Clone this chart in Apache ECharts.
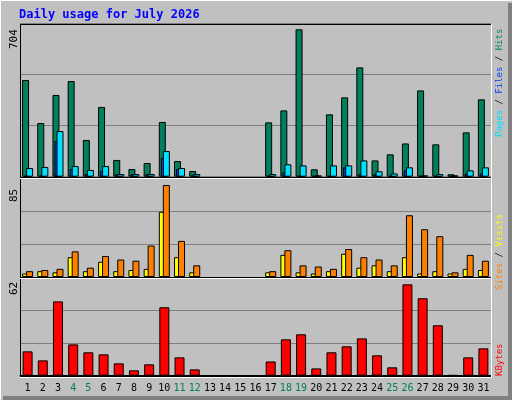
<!DOCTYPE html>
<html><head><meta charset="utf-8">
<script src="https://cdn.jsdelivr.net/npm/echarts@6/dist/echarts.min.js"></script>
<style>html,body{margin:0;padding:0;background:#C0C0C0}#c{width:512px;height:400px}</style>
</head><body><div id="c"></div>
<script>
const days = ['1','2','3','4','5','6','7','8','9','10','11','12','13','14','15','16','17','18','19','20','21','22','23','24','25','26','27','28','29','30','31'];
const weekend = ['4','5','11','12','18','19','25','26'];
const hits  = [445,247,376,440,169,321,77,35,63,252,72,26,null,null,null,null,250,305,678,34,287,365,503,75,103,153,397,149,11,204,356];
const files = [3,6,164,35,12,26,12,12,12,86,35,6,null,null,null,null,3,20,3,3,3,43,12,12,3,29,3,3,3,15,15];
const pages = [40,45,210,49,31,49,12,12,12,118,40,12,null,null,null,null,12,57,52,6,52,52,75,25,15,43,6,12,6,29,43];
const sites = [3,5,4,17,5,13,5,6,7,56,17,4,null,null,null,null,4,19,4,3,5,20,8,10,5,17,3,5,3,7,6];
const visits= [5,6,7,22,8,18,15,14,27,79,31,10,null,null,null,null,5,23,10,9,7,24,17,15,10,53,41,35,4,19,14];
const kbytes= [15.4,9.7,47,19.8,14.8,13.5,7.8,3.4,7.2,43.3,11.6,4,null,null,null,null,9,23,26.2,4.6,14.8,18.6,23.6,12.9,5.3,57.8,49,31.9,0.4,11.6,17.3];
const maxes = [704,85,62];

const ch = echarts.init(document.getElementById('c'));
const mono = 'DejaVu Sans Mono';
const grids = [{left:20,right:21,top:23.7,height:153},{left:20,right:21,top:178,height:99},{left:20,right:21,top:277.7,height:98}];
function xa(i){return {type:'category',data:days,gridIndex:i,
  axisLine:{show:i===2,lineStyle:{color:'#000',width:1}},axisTick:{show:false},
  axisLabel:{show:i===2,interval:0,fontFamily:mono,fontSize:10,margin:8,
    formatter:v=>weekend.includes(v)?'{w|'+v+'}':'{n|'+v+'}',
    rich:{w:{color:'#00805C',fontFamily:mono,fontSize:10},n:{color:'#000',fontFamily:mono,fontSize:10}}}};}
function ya(i){return {type:'value',gridIndex:i,min:0,max:maxes[i],interval:maxes[i]/3,
  axisLabel:{show:false},axisLine:{show:false},axisTick:{show:false},
  splitLine:{lineStyle:{color:'#808080',width:1}}};}
const bs = {borderColor:'#000',borderWidth:1};
function lineG(x1,y1,x2,y2,c){return {type:'line',shape:{x1,y1,x2,y2},style:{stroke:c,lineWidth:1},z:100};}
const sf = '9px "DejaVu Sans Mono"';
ch.setOption({
  animation:false,backgroundColor:'#C0C0C0',
  grid:grids,xAxis:[xa(0),xa(1),xa(2)],yAxis:[ya(0),ya(1),ya(2)],
  series:[
    {type:'bar',name:'Hits',data:hits,xAxisIndex:0,yAxisIndex:0,barWidth:7,barGap:'-71%',itemStyle:Object.assign({color:'#00805C'},bs)},
    {type:'bar',name:'Files',data:files,xAxisIndex:0,yAxisIndex:0,barWidth:7,barGap:'-71%',itemStyle:Object.assign({color:'#0040FF'},bs)},
    {type:'bar',name:'Pages',data:pages,xAxisIndex:0,yAxisIndex:0,barWidth:7,barGap:'-71%',itemStyle:Object.assign({color:'#00E0FF'},bs)},
    {type:'bar',name:'Sites',data:sites,xAxisIndex:1,yAxisIndex:1,barWidth:7,barGap:'-43%',itemStyle:Object.assign({color:'#FFFF00'},bs)},
    {type:'bar',name:'Visits',data:visits,xAxisIndex:1,yAxisIndex:1,barWidth:7,barGap:'-43%',itemStyle:Object.assign({color:'#FF8000'},bs)},
    {type:'bar',name:'KBytes',data:kbytes,xAxisIndex:2,yAxisIndex:2,barWidth:10,itemStyle:Object.assign({color:'#FF0000'},bs)}
  ],
  graphic:[
    lineG(0.5,0.5,511.5,0.5,'#fff'),lineG(0.5,0.5,0.5,399.5,'#fff'),
    {type:'rect',shape:{x:508,y:3,width:4,height:397},style:{fill:'#808080'},z:90},
    {type:'rect',shape:{x:3,y:396,width:509,height:4},style:{fill:'#808080'},z:90},
    lineG(20,24.5,491,24.5,'#000'),lineG(20.5,24,20.5,378,'#000'),
    lineG(491.5,24,491.5,378,'#fff'),
    lineG(20,177.5,491,177.5,'#000'),lineG(20,178.5,491,178.5,'#fff'),
    lineG(20,277.5,491,277.5,'#000'),lineG(20,278.5,491,278.5,'#fff'),
    lineG(20,376.5,491,376.5,'#000'),lineG(20,377.5,491,377.5,'#fff'),
    {type:'text',left:19,top:9,style:{text:'Daily usage for July 2026',fill:'#0000FF',font:'bold 12px "DejaVu Sans Mono"'}},
    {type:'text',x:9,y:49,rotation:Math.PI/2,style:{text:'704',fill:'#000',font:'11px "DejaVu Sans Mono"'}},
    {type:'text',x:9,y:202,rotation:Math.PI/2,style:{text:'85',fill:'#000',font:'11px "DejaVu Sans Mono"'}},
    {type:'text',x:9,y:295,rotation:Math.PI/2,style:{text:'62',fill:'#000',font:'11px "DejaVu Sans Mono"'}},
    {type:'text',x:495,y:137,rotation:Math.PI/2,style:{text:'{p|Pages}{s| / }{f|Files}{s| / }{h|Hits}',font:sf,
      rich:{p:{fill:'#00E0FF',font:sf},f:{fill:'#0040FF',font:sf},h:{fill:'#00805C',font:sf},s:{fill:'#000',font:sf}}}},
    {type:'text',x:495,y:290,rotation:Math.PI/2,style:{text:'{a|Sites}{s| / }{b|Visits}',font:sf,
      rich:{a:{fill:'#FF8000',font:sf},b:{fill:'#FFFF00',font:sf},s:{fill:'#000',font:sf}}}},
    {type:'text',x:495,y:376,rotation:Math.PI/2,style:{text:'KBytes',fill:'#FF0000',font:sf}}
  ]
});
</script></body></html>
